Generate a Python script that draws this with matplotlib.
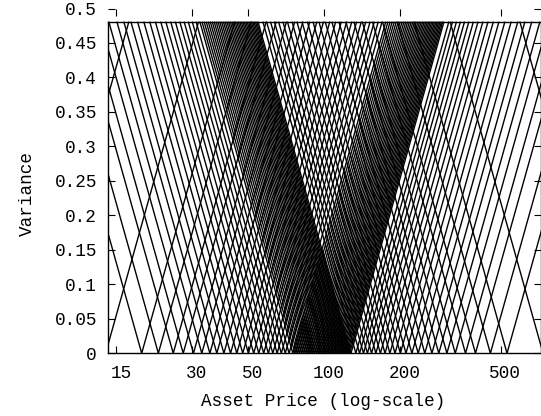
import matplotlib
matplotlib.use("Agg")
import matplotlib.pyplot as plt
from matplotlib.transforms import ScaledTranslation

plt.rcParams['font.family'] = ['Liberation Mono', 'DejaVu Sans Mono']
plt.rcParams['font.size'] = 12.7

# Grid nodes on the price axis (v = 0) from which the characteristic lines rise
nodes_low = [7.2, 13.6, 18.9, 22.0, 25.2, 27.6, 30.3, 32.7, 35.2, 37.5, 40.0,
             42.5, 45.0, 47.5, 50.0, 52.5, 55.0, 57.5, 60.0, 62.5, 65.0, 67.5,
             70.0, 72.5, 75.0]
nodes_mid = [76.5, 78.0, 79.5, 81.0, 82.5, 84.0, 85.5, 87.0, 88.5, 90.0, 91.5,
             93.0, 94.5, 96.0, 97.5, 99.0, 100.5, 102.0, 103.5, 105.0, 106.5,
             108.0, 109.5, 111.0, 112.5, 114.0, 115.5, 117.0, 118.5, 120.0,
             121.5, 123.0, 124.5, 126.0, 127.5]
nodes_high = [133.3, 137.9, 142.9, 148.1, 153.8, 160.0, 166.7, 173.9, 181.8,
              190.5, 200.0, 210.5, 222.2, 235.3, 250.0, 266.7, 284.0, 305.8,
              330.0, 362.3, 396.8, 454.5, 529.1, 735.0, 1389.0]

spread = 0.766          # decades of price per unit variance
v_top = 0.48            # upper edge of the variance grid
price_lo, price_hi = 13.9, 718.0

xticks = [15, 30, 50, 100, 200, 500]
xtick_labels = ['15', '30', '50', '100', '200', '500']
yticks = [0, 0.05, 0.1, 0.15, 0.2, 0.25, 0.3, 0.35, 0.4, 0.45, 0.5]
ytick_labels = ['0', '0.05', '0.1', '0.15', '0.2', '0.25', '0.3', '0.35',
                '0.4', '0.45', '0.5']

W, H = 541, 416
fig = plt.figure(figsize=(W / 100, H / 100), dpi=100)
ax = fig.add_axes([108 / W, 1 - 353.3 / H, (540.5 - 108) / W, (353.3 - 8.5) / H])
ax.set_xscale('log')
ax.set_xlim(price_lo, price_hi)
ax.set_ylim(0, 0.5)

f = 10 ** (spread * v_top)
for s0 in nodes_low + nodes_mid + nodes_high:
    ax.plot([s0 / f, s0, s0 * f], [v_top, 0, v_top], color='black', lw=1.0,
            solid_joinstyle='miter')

# frame of the grid
ax.spines['top'].set_visible(False)
for side in ('left', 'right'):
    ax.spines[side].set_bounds(0, v_top)
for sp in ax.spines.values():
    sp.set_linewidth(1.0)
ax.plot([price_lo, price_hi], [v_top, v_top], color='black', lw=1.0, clip_on=False)

ax.set_xticks(xticks)
ax.set_xticklabels(xtick_labels)
ax.xaxis.set_minor_locator(matplotlib.ticker.NullLocator())
ax.set_yticks(yticks)
ax.set_yticklabels(ytick_labels)
ax.tick_params(direction='in', top=True, right=True, length=5, width=0.8)
ax.tick_params(axis='x', pad=8.5)
ax.tick_params(axis='y', pad=8)
shift = ScaledTranslation(4.5 / 100, 0, fig.dpi_scale_trans)
for lab in ax.get_xticklabels():
    lab.set_transform(lab.get_transform() + shift)

fig.text(323.5 / W, 1 - 401.7 / H, 'Asset Price (log-scale)', ha='center', va='center')
fig.text(27 / W, 1 - 193 / H, 'Variance', rotation=90, ha='center', va='center')

fig.savefig('out.png', dpi=100, facecolor='white')
